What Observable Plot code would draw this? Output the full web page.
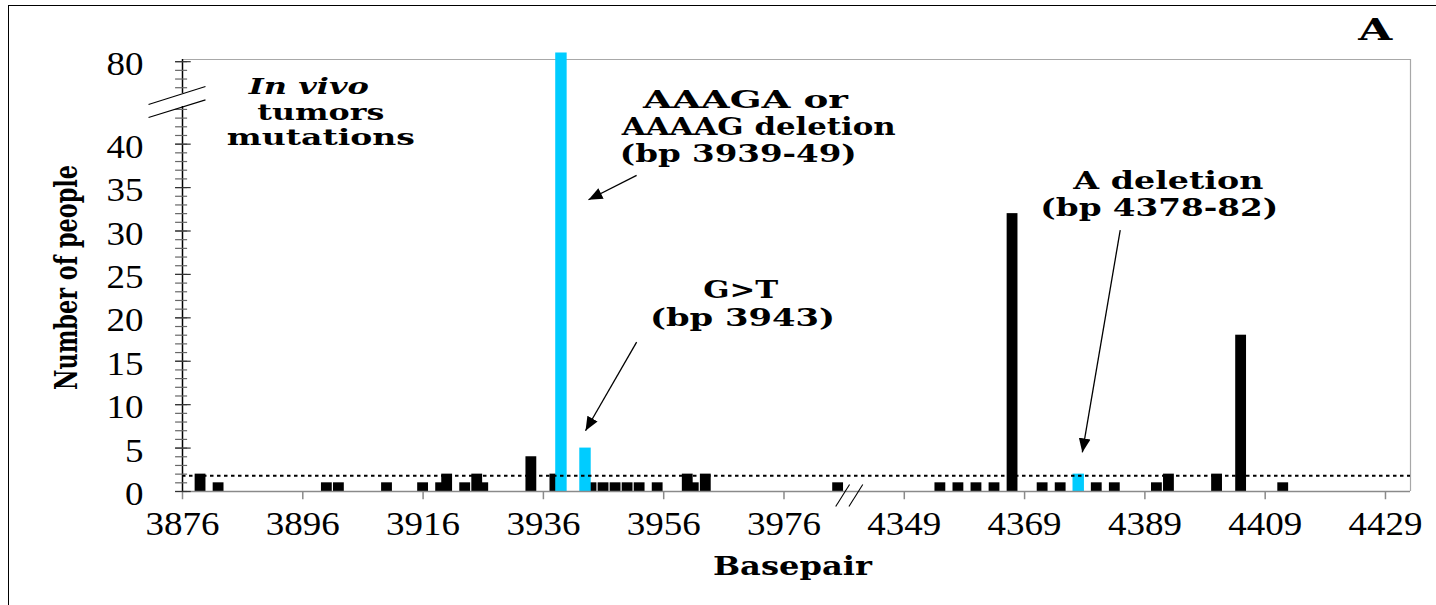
<!DOCTYPE html>
<html><head><meta charset="utf-8">
<script src="https://cdn.jsdelivr.net/npm/d3@7"></script>
<script src="https://cdn.jsdelivr.net/npm/@observablehq/plot@0.6"></script>
<style>
html,body{margin:0;padding:0;background:#fff;overflow:hidden}
#wrap{position:relative;width:1436px;height:605px;overflow:hidden}
#border{position:absolute;left:8px;top:5px;width:1500px;height:700px;border-left:1.5px solid #000;border-top:1.5px solid #000;pointer-events:none}
</style></head><body>
<div id="wrap"><div id="chart"></div><div id="border"></div></div>
<script>
// ---- data ----
const blackBp    = [3879,3882,3900,3902,3910,3916,3919,3920,3923,3925,3926,3934,3938,3944,3946,3948,3950,3952,3955,3960,3961,3963,3985,4355,4358,4361,4364,4367,4372,4375,4381,4384,4391,4393,4401,4405,4412];
const blackCount = [2,   1,   1,   1,   1,   1,   1,   2,   1,   2,   1,   4,   2,   1,   1,   1,   1,   1,   1,   2,   1,   2,   1,   1,   1,   1,   1,   32,  1,   1,   1,   1,   1,   2,   2,   18,  1];
const cyanBp     = [3939, 3943, 4378];
const cyanCount  = [81,   5,    2];
const threshold  = 1.8;
const xTickBp    = [3876,3896,3916,3936,3956,3976,4349,4369,4389,4409,4429];
const yTickLabels = [0,5,10,15,20,25,30,35,40,80];
const yMinorLow  = d3.range(0, 45);
const yMinorHigh = [77,78,79,80];
const annotations = [
  {text:"In vivo", bp:3897, row:46.6, italic:true, w:120, size:22},
  {text:"tumors", bp:3899, row:43.65, w:127, size:22},
  {text:"mutations", bp:3899, row:40.77, w:188, size:22},
  {text:"AAAGA or", bp:3969.6, row:45.0, w:205, size:24},
  {text:"AAAAG deletion", bp:3971.8, row:41.9, w:274, size:24},
  {text:"(bp 3939-49)", bp:3968.4, row:38.8, w:237, size:24},
  {text:"G>T", bp:3968.8, row:23.15, w:75, size:24},
  {text:"(bp 3943)", bp:3969.1, row:19.9, w:185, size:24},
  {text:"A deletion", bp:4392.9, row:35.7, w:190, size:24},
  {text:"(bp 4378-82)", bp:4391.4, row:32.6, w:238, size:24}
];
const arrows = [
  {bp1:3951.5, r1:36.4, bp2:3943.5, r2:33.6},
  {bp1:3951.5, r1:17.2, bp2:3943.0, r2:7.0},
  {bp1:4384.9, r1:30.1, bp2:4378.6, r2:4.5}
];

// ---- broken axes ----
const xpos = bp => bp < 4100 ? bp - 3876 : bp - 4349 + 120;   // x break between 3986 and 4340
const ypos = v => v <= 45 ? v : v - 30.5;                       // y break between 45 and 76
const xMax = 204.16, yMax = 49.75;

const sortIdx = (arr) => d3.range(arr.length).sort((a,b)=>arr[a]-arr[b]);
const blackTable = sortIdx(blackCount).map(i => ({p: xpos(blackBp[i]), v: ypos(blackCount[i])}));
const cyanTable = cyanBp.map((b,i) => ({p: xpos(b), v: ypos(cyanCount[i])}));

const breakLines = [
  {x1:-5.65, y1:44.57, x2:3.82, y2:46.64},
  {x1:-5.65, y1:43.07, x2:3.82, y2:45.1},
  {x1:108.6, y1:-1.73, x2:110.9, y2:0.81},
  {x1:110.8, y1:-1.73, x2:113.1, y2:0.81}
];

const serif = "'Liberation Serif', 'Times New Roman', Times, serif";
const bold = "'DejaVu Serif', 'Liberation Serif', serif";

const annoMark = (rows, italic) => Plot.text(rows, {
  x: d => xpos(d.bp), y: "row", text: "text", fontSize: d => d.size,
  fontWeight: "bold", fontStyle: italic ? "italic" : "normal", fontFamily: bold, fill: "#000"
});

const plot = Plot.plot({
  width: 1436, height: 605,
  marginLeft: 182, marginRight: 26, marginTop: 59, marginBottom: 114,
  x: {domain: [0, xMax], axis: null},
  y: {domain: [0, yMax], axis: null},
  style: {background: "transparent", overflow: "visible", fontFamily: serif},
  marks: [
    // frame top/right
    Plot.ruleY([yMax], {stroke: "#a8a8a8", strokeWidth: 1.2}),
    Plot.ruleX([xMax], {stroke: "#a8a8a8", strokeWidth: 1.2}),
    // bars
    Plot.rect(blackTable, {x1: d => d.p - 0.9, x2: d => d.p + 0.9, y1: 0, y2: d => d.v, fill: "#000"}),
    Plot.rect(cyanTable, {x1: d => d.p - 0.95, x2: d => d.p + 0.95, y1: 0, y2: d => d.v, fill: "#00CCFF"}),
    // threshold dotted line
    Plot.ruleY([threshold], {stroke: "#000", strokeWidth: 2, strokeDasharray: "3.5,3.5"}),
    // x axis
    Plot.ruleY([0], {stroke: "#8a8a8a", strokeWidth: 1.5}),
    Plot.ruleX(xTickBp, {x: xpos, y1: 0, y2: -0.95, stroke: "#8a8a8a", strokeWidth: 1.5}),
    Plot.text(xTickBp, {x: xpos, y: 0, text: d => String(d), dy: 33, fontSize: 33, fontFamily: serif, fill: "#000"}),
    // y axis (broken)
    Plot.ruleX([0], {y1: 0, y2: 44.34, stroke: "#000", strokeWidth: 1.5}),
    Plot.ruleX([0], {y1: 45.84, y2: yMax, stroke: "#000", strokeWidth: 1.5}),
    Plot.ruleY(yMinorLow.concat(yMinorHigh).map(ypos), {x1: -1.15, x2: 0.85, stroke: "#666", strokeWidth: 1.2}),
    Plot.ruleY(yTickLabels.map(ypos), {x1: -1.15, x2: 1.45, stroke: "#333", strokeWidth: 1.2}),
    Plot.text(yTickLabels, {x: 0, y: ypos, text: d => String(d), textAnchor: "end", dx: -39, dy: 3, fontSize: 33, fontFamily: serif, fill: "#000"}),
    // break marks
    Plot.link(breakLines, {x1: "x1", y1: "y1", x2: "x2", y2: "y2", stroke: "#000", strokeWidth: 1.1}),
    // arrows
    Plot.link(arrows, {x1: d => xpos(d.bp1), y1: "r1", x2: d => xpos(d.bp2), y2: "r2", stroke: "#000", strokeWidth: 1.3, markerEnd: "arrow"}),
    // annotations
    annoMark(annotations.filter(d => !d.italic), false),
    annoMark(annotations.filter(d => d.italic), true),
    // panel letter
    Plot.text(["A"], {x: xpos(4427.3), y: 53.1, text: d => d, fontSize: 30, fontWeight: "bold", fontFamily: bold, fill: "#000"}),
    // axis titles
    Plot.text(["Basepair"], {x: 101.4, y: -8.64, text: d => d, fontSize: 26, fontWeight: "bold", fontFamily: bold, fill: "#000"}),
    Plot.text(["Number of people"], {x: -19.3, y: 24.65, text: d => d, rotate: -90, fontSize: 32, fontWeight: "bold", fontFamily: "'DejaVu Serif Condensed', 'DejaVu Serif', serif", fill: "#000"})
  ]
});
document.getElementById("chart").appendChild(plot);

// text widths matched to the reference
const widths = {"Basepair": 159, "Number of people": 225, "A": 34};
annotations.forEach(a => widths[a.text] = a.w);
plot.querySelectorAll("text").forEach(t => {
  const s = t.textContent.trim();
  let w = widths[s];
  if (w == null && /^\d+$/.test(s)) w = s.length === 4 ? 74 : s.length * 18.5;
  if (w != null) { t.setAttribute("textLength", w); t.setAttribute("lengthAdjust", "spacingAndGlyphs"); }
});
// filled triangular arrowheads
plot.querySelectorAll("marker").forEach(m => {
  m.setAttribute("viewBox", "-10 -5 10 10");
  m.setAttribute("markerUnits", "userSpaceOnUse");
  m.setAttribute("markerWidth", "14");
  m.setAttribute("markerHeight", "14");
  m.setAttribute("fill", "#000");
  m.setAttribute("stroke", "none");
  m.querySelectorAll("path").forEach(p => { p.setAttribute("d", "M-10,-4.2L0,0L-10,4.2Z"); p.setAttribute("fill", "#000"); p.setAttribute("stroke", "none"); });
});
</script>
</body></html>
